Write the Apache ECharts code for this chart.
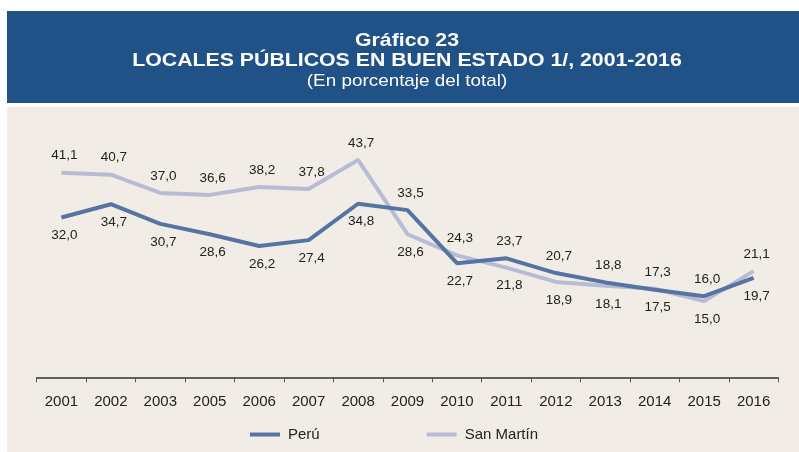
<!DOCTYPE html>
<html>
<head>
<meta charset="utf-8">
<script src="https://cdn.jsdelivr.net/npm/echarts@6/dist/echarts.min.js"></script>
<style>
html,body{margin:0;padding:0;background:#ffffff;}
#c{width:799px;height:452px;}
</style>
</head>
<body>
<div id="c"></div>
<script>
const categories = ['2001','2002','2003','2005','2006','2007','2008','2009','2010','2011','2012','2013','2014','2015','2016'];
const peru = [32.0, 34.7, 30.7, 28.6, 26.2, 27.4, 34.8, 33.5, 22.7, 23.7, 20.7, 18.8, 17.3, 16.0, 19.7];
const sanMartin = [41.1, 40.7, 37.0, 36.6, 38.2, 37.8, 43.7, 28.6, 24.3, 21.8, 18.9, 18.1, 17.5, 15.0, 21.1];
const peruLabelPos = ['bottom','bottom','bottom','bottom','bottom','bottom','bottom','top','bottom','top','top','top','top','top','bottom'];
const smLabelPos = ['top','top','top','top','top','top','top','bottom','top','bottom','bottom','bottom','bottom','bottom','top'];

const fmt = v => v.toFixed(1).replace('.', ',');
const FONT = '"Liberation Sans", Arial, sans-serif';

function mk(vals, pos) {
  return vals.map((v, i) => ({
    value: v,
    label: { position: pos[i], distance: pos[i] === 'bottom' ? 11 : 10, offset: [3, 0] }
  }));
}

const chart = echarts.init(document.getElementById('c'));
chart.setOption({
  animation: false,
  backgroundColor: '#ffffff',
  graphic: [
    { type: 'rect', z: -10, shape: { x: 7, y: 11, width: 792, height: 92 }, style: { fill: '#205287' } },
    { type: 'rect', z: -10, shape: { x: 7, y: 107, width: 792, height: 345 }, style: { fill: '#f1ede6' } },
    { type: 'text', x: 407, y: 41, scaleX: 1.12, style: { text: 'Gráfico 23', fill: '#ffffff', font: 'bold 19px ' + FONT, textAlign: 'center', textVerticalAlign: 'middle' } },
    { type: 'text', x: 407, y: 60.5, scaleX: 1.12, style: { text: 'LOCALES PÚBLICOS EN BUEN ESTADO 1/, 2001-2016', fill: '#ffffff', font: 'bold 19px ' + FONT, textAlign: 'center', textVerticalAlign: 'middle' } },
    { type: 'text', x: 407, y: 81.5, scaleX: 1.11, style: { text: '(En porcentaje del total)', fill: '#ffffff', font: '17px ' + FONT, textAlign: 'center', textVerticalAlign: 'middle' } }
  ],
  grid: { left: 36.7, right: 20.7, top: 129, bottom: 74.7 },
  legend: {
    left: 245, top: 422,
    itemWidth: 30, itemHeight: 4, itemGap: 107,
    icon: 'rect',
    textStyle: { fontFamily: FONT, fontSize: 15, color: '#222', padding: [0, 0, 0, 3] },
    data: ['Perú', 'San Martín']
  },
  xAxis: {
    type: 'category',
    data: categories,
    boundaryGap: true,
    axisLine: { onZero: false, lineStyle: { color: '#333', width: 1.5 } },
    axisTick: { show: true, length: 5, lineStyle: { color: '#555' } },
    axisLabel: { fontFamily: FONT, fontSize: 15, color: '#222', margin: 17 }
  },
  yAxis: {
    type: 'value', min: -0.5, max: 50, show: false,
    splitLine: { show: false }
  },
  series: [
    {
      name: 'Perú', type: 'line', data: mk(peru, peruLabelPos),
      showSymbol: true, symbol: 'circle', symbolSize: 0,
      lineStyle: { color: '#5674a3', width: 4 }, itemStyle: { color: '#5674a3' },
      label: { show: true, formatter: p => fmt(p.value), fontFamily: FONT, fontSize: 13.5, color: '#222' },
      z: 3
    },
    {
      name: 'San Martín', type: 'line', data: mk(sanMartin, smLabelPos),
      showSymbol: true, symbol: 'circle', symbolSize: 0,
      lineStyle: { color: '#b8bbd6', width: 4 }, itemStyle: { color: '#b8bbd6' },
      label: { show: true, formatter: p => fmt(p.value), fontFamily: FONT, fontSize: 13.5, color: '#222' },
      z: 2
    }
  ]
});
</script>
</body>
</html>
